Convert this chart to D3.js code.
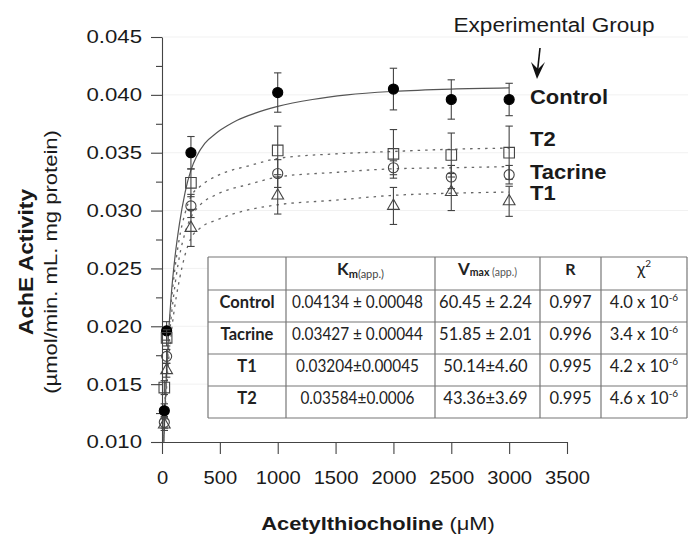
<!DOCTYPE html>
<html>
<head>
<meta charset="utf-8">
<script src="https://cdn.jsdelivr.net/npm/d3@7.9.0/dist/d3.min.js"></script>
<style>
  body { margin: 0; background: #fff; }
  svg text { font-family: "Liberation Sans", Arial, sans-serif; fill: #1a1a1a; }
  .tbl text { font-family: Lato, "Open Sans", sans-serif; fill: #222; }
</style>
</head>
<body>
<svg id="chart" width="688" height="536"></svg>
<script>
// substrate concentrations (µM) where activity was measured
const concentrations = [20, 40, 250, 1000, 2000, 2500, 3000];

// mean activity and error for each group
const controlMean = [0.0127, 0.0196, 0.0350, 0.0402, 0.0405, 0.0396, 0.0396];
const controlErr  = [0.0006, 0.0008, 0.0014, 0.0017, 0.0018, 0.0017, 0.0014];
const t2Mean      = [0.0147, 0.0190, 0.0324, 0.0352, 0.0349, 0.0348, 0.0350];
const t2Err       = [0.0006, 0.0007, 0.0012, 0.0021, 0.0021, 0.0019, 0.0023];
const tacrineMean = [0.0117, 0.0174, 0.0304, 0.0332, 0.0337, 0.0329, 0.0331];
const tacrineErr  = [0.0005, 0.0006, 0.0010, 0.0012, 0.0006, 0.0010, 0.0008];
const t1Mean      = [0.0115, 0.0162, 0.0285, 0.0313, 0.0304, 0.0316, 0.0308];
const t1Err       = [0.0005, 0.0006, 0.0016, 0.0016, 0.0016, 0.0016, 0.0013];

// fitted curves
const controlFitX = [10, 20, 35, 55, 80, 110, 150, 200, 250, 300, 370, 470, 560, 650, 800, 1000, 1300, 1600, 2000, 2500, 3000];
const controlFitY = [0.0080, 0.0112, 0.0150, 0.0190, 0.0227, 0.0258, 0.0288, 0.0316, 0.0335, 0.0347, 0.0358, 0.0367, 0.0373, 0.0378, 0.0384, 0.0390, 0.0396, 0.0400, 0.0403, 0.0405, 0.0406];
const groupFitX   = [10, 25, 45, 70, 100, 150, 200, 250, 331, 475, 763, 1000, 1500, 1973, 2500, 3000];
const t2FitY      = [0.0098, 0.0135, 0.0175, 0.0210, 0.0240, 0.0276, 0.0298, 0.0312, 0.0321, 0.0330, 0.0339, 0.0345, 0.0349, 0.0351, 0.0353, 0.0354];
const tacrineFitY = [0.0096, 0.0128, 0.0165, 0.0198, 0.0226, 0.0260, 0.0281, 0.0294, 0.0305, 0.0314, 0.0323, 0.0329, 0.0333, 0.0336, 0.0337, 0.0338];
const t1FitY      = [0.0094, 0.0122, 0.0155, 0.0185, 0.0210, 0.0240, 0.0262, 0.0276, 0.0285, 0.0292, 0.0301, 0.0305, 0.0309, 0.0313, 0.0315, 0.0316];

// axis ticks
const xTicks = [0, 500, 1000, 1500, 2000, 2500, 3000, 3500];
const yTicks = [0.010, 0.015, 0.020, 0.025, 0.030, 0.035, 0.040, 0.045];
const yMinorTicks = [0.0125, 0.0175, 0.0225, 0.0275, 0.0325, 0.0375, 0.0425];

// kinetic parameters table
const tableGroups = ["Control", "Tacrine", "T1", "T2"];
const kmValues    = ["0.04134 ± 0.00048", "0.03427 ± 0.00044", "0.03204±0.00045", "0.03584±0.0006"];
const vmaxValues  = ["60.45 ± 2.24", "51.85 ± 2.01", "50.14±4.60", "43.36±3.69"];
const rValues     = ["0.997", "0.996", "0.995", "0.995"];
const chiValues   = ["4.0", "3.4", "4.2", "4.6"];

const svg = d3.select('#chart');

const x = d3.scaleLinear().domain([0, 3500]).range([162, 567]);
const y = d3.scaleLinear().domain([0.010, 0.045]).range([442, 37]);

// stretch text a bit, the original font is wider than Arial
function stretch(sel, k) {
    sel.each(function() {
        const w = this.getComputedTextLength();
        d3.select(this).attr('textLength', w * k).attr('lengthAdjust', 'spacingAndGlyphs');
    });
}

// faint grid
svg.append('g')
    .selectAll('line')
    .data(yTicks.slice(1))
    .join('line')
    .attr('x1', x(0)).attr('x2', 688)
    .attr('y1', d => y(d)).attr('y2', d => y(d))
    .attr('stroke', '#f1f1f1');

// axes
const xAxis = svg.append('g')
    .attr('transform', `translate(0,${y(0.010)})`)
    .call(d3.axisBottom(x).tickValues(xTicks).tickSize(12).tickSizeOuter(0).tickPadding(17).tickFormat(d3.format('d')));
const yAxis = svg.append('g')
    .attr('transform', `translate(${x(0)},0)`)
    .call(d3.axisLeft(y).tickValues(yTicks).tickSize(11).tickSizeOuter(0).tickPadding(9).tickFormat(d3.format('.3f')));
svg.append('g')
    .attr('transform', `translate(${x(0)},0)`)
    .call(d3.axisLeft(y).tickValues(yMinorTicks).tickSize(6).tickFormat(''))
    .select('.domain').remove();

svg.selectAll('.domain, .tick line').attr('stroke', '#444').attr('stroke-width', 1.1);
xAxis.selectAll('text').attr('font-size', 18).attr('fill', '#1a1a1a').call(stretch, 1.12);
yAxis.selectAll('text').attr('font-size', 18.5).attr('fill', '#1a1a1a').call(stretch, 1.2);

// axis titles
const xTitle = svg.append('text')
    .attr('x', 378).attr('y', 530)
    .attr('text-anchor', 'middle')
    .attr('font-size', 19);
xTitle.append('tspan').attr('font-weight', 'bold').text('Acetylthiocholine');
xTitle.append('tspan').text(' (μM)');
xTitle.call(stretch, 1.15);

svg.append('text')
    .attr('transform', 'translate(33,262) rotate(-90)')
    .attr('text-anchor', 'middle')
    .attr('font-size', 20).attr('font-weight', 'bold')
    .text('AchE Activity')
    .call(stretch, 1.14);
svg.append('text')
    .attr('transform', 'translate(57,262) rotate(-90)')
    .attr('text-anchor', 'middle')
    .attr('font-size', 19)
    .text('(µmol/min. mL. mg protein)')
    .call(stretch, 1.16);

// curves and markers
const series = [
    { name: 'Control', mean: controlMean, err: controlErr, fitX: controlFitX, fitY: controlFitY, symbol: d3.symbolCircle, size: 80, filled: true, dash: null, labelShift: -3 },
    { name: 'T2', mean: t2Mean, err: t2Err, fitX: groupFitX, fitY: t2FitY, symbol: d3.symbolSquare, size: 112, filled: false, dash: '2.5,5', labelShift: -14 },
    { name: 'Tacrine', mean: tacrineMean, err: tacrineErr, fitX: groupFitX, fitY: tacrineFitY, symbol: d3.symbolCircle, size: 80, filled: false, dash: '2.5,5', labelShift: -3 },
    { name: 'T1', mean: t1Mean, err: t1Err, fitX: groupFitX, fitY: t1FitY, symbol: d3.symbolTriangle, size: 60, filled: false, dash: '2.5,5', labelShift: -8 }
];

svg.append('clipPath').attr('id', 'plotClip')
    .append('rect')
    .attr('x', x(0)).attr('y', y(0.045))
    .attr('width', x(3500) - x(0)).attr('height', y(0.010) - y(0.045));

const line = d3.line()
    .x(d => x(d[0]))
    .y(d => y(d[1]))
    .curve(d3.curveMonotoneX);

const curves = svg.append('g').attr('clip-path', 'url(#plotClip)');
series.forEach(s => {
    const pts = s.fitX.map((v, i) => [v, s.fitY[i]]);
    curves.append('path')
        .attr('d', line(pts))
        .attr('fill', 'none')
        .attr('stroke', s.dash ? '#666' : '#555')
        .attr('stroke-width', s.dash ? 1.3 : 1.2)
        .attr('stroke-dasharray', s.dash);
});

const marks = svg.append('g');
series.forEach(s => {
    const g = marks.append('g');
    concentrations.forEach((c, i) => {
        const cx = x(c);
        const top = y(s.mean[i] + s.err[i]);
        const bot = y(s.mean[i] - s.err[i]);
        g.append('line').attr('x1', cx).attr('x2', cx).attr('y1', top).attr('y2', bot)
            .attr('stroke', '#444').attr('stroke-width', 1.1);
        [top, bot].forEach(yy => {
            g.append('line').attr('x1', cx - 3.7).attr('x2', cx + 3.7).attr('y1', yy).attr('y2', yy)
                .attr('stroke', '#444').attr('stroke-width', 1.1);
        });
        g.append('path')
            .attr('transform', `translate(${cx},${y(s.mean[i])})`)
            .attr('d', d3.symbol().type(s.symbol).size(s.size)())
            .attr('fill', s.filled ? '#000' : 'none')
            .attr('stroke', s.filled ? '#000' : '#444')
            .attr('stroke-width', 1.1);
    });
});

// group labels on the right
series.forEach(s => {
    const last = s.mean[s.mean.length - 1];
    svg.append('text')
        .attr('x', 530)
        .attr('y', y(last) + s.labelShift)
        .attr('dy', '0.35em')
        .attr('font-size', 20.5).attr('font-weight', 'bold')
        .text(s.name)
        .call(stretch, 1.07);
});

svg.append('text')
    .attr('x', 554).attr('y', 31.5)
    .attr('text-anchor', 'middle')
    .attr('font-size', 20)
    .text('Experimental Group')
    .call(stretch, 1.13);

// little hand drawn arrow
svg.append('path')
    .attr('d', 'M540,48 L537,76')
    .attr('stroke', '#111').attr('stroke-width', 1.6).attr('fill', 'none');
svg.append('path')
    .attr('d', 'M531,62 L537,79 L545,62 L538,69 Z')
    .attr('fill', '#111');

// parameter table
const colEdges = [208, 286, 435, 540, 601, 687];
const rowEdges = [257, 290, 322, 354, 386, 418];
const tbl = svg.append('g').attr('class', 'tbl');
tbl.append('rect')
    .attr('x', colEdges[0]).attr('y', rowEdges[0])
    .attr('width', colEdges[5] - colEdges[0]).attr('height', rowEdges[5] - rowEdges[0])
    .attr('fill', '#fff');
rowEdges.forEach(r => tbl.append('line')
    .attr('x1', colEdges[0]).attr('x2', colEdges[5]).attr('y1', r).attr('y2', r)
    .attr('stroke', '#777').attr('stroke-width', 1.2));
colEdges.forEach(c => tbl.append('line')
    .attr('x1', c).attr('x2', c).attr('y1', rowEdges[0]).attr('y2', rowEdges[5])
    .attr('stroke', '#777').attr('stroke-width', 1.2));

const colMid = i => (colEdges[i] + colEdges[i + 1]) / 2;
const headY = rowEdges[0] + 18;

const km = tbl.append('text').attr('x', colMid(1)).attr('y', headY).attr('text-anchor', 'middle');
km.append('tspan').attr('font-weight', 'bold').attr('font-size', 17).text('K');
km.append('tspan').attr('font-weight', 'bold').attr('font-size', 11).attr('dy', 3).text('m');
km.append('tspan').attr('font-size', 11).attr('fill', '#444').text('(app.)');

const vm = tbl.append('text').attr('x', colMid(2)).attr('y', headY).attr('text-anchor', 'middle');
vm.append('tspan').attr('font-weight', 'bold').attr('font-size', 17).text('V');
vm.append('tspan').attr('font-weight', 'bold').attr('font-size', 10.5).attr('dy', 1).text('max');
vm.append('tspan').attr('font-size', 10.5).attr('fill', '#555').text(' (app.)');

tbl.append('text').attr('x', colMid(3)).attr('y', headY).attr('text-anchor', 'middle')
    .attr('font-weight', 'bold').attr('font-size', 16).text('R');

const chi = tbl.append('text').attr('x', colMid(4)).attr('y', headY).attr('text-anchor', 'middle');
chi.append('tspan').attr('font-size', 17).text('χ');
chi.append('tspan').attr('font-size', 10).attr('dy', -8).text('2');

tableGroups.forEach((g, i) => {
    const by = rowEdges[i + 1] + 18;
    tbl.append('text').attr('x', colMid(0)).attr('y', by).attr('text-anchor', 'middle')
        .attr('font-weight', 'bold').attr('font-size', 16.5).text(g);
    tbl.append('text').attr('x', colMid(1) - 3).attr('y', by).attr('text-anchor', 'middle')
        .attr('font-size', 16.5).text(kmValues[i])
        .call(stretch, 0.93);
    tbl.append('text').attr('x', colMid(2) - 2).attr('y', by).attr('text-anchor', 'middle')
        .attr('font-size', 16.5).text(vmaxValues[i]);
    tbl.append('text').attr('x', colMid(3)).attr('y', by).attr('text-anchor', 'middle')
        .attr('font-size', 16.5).text(rValues[i]);
    const c = tbl.append('text').attr('x', colMid(4)).attr('y', by).attr('text-anchor', 'middle')
        .attr('font-size', 16.5);
    c.append('tspan').text(chiValues[i] + ' x 10');
    c.append('tspan').attr('font-size', 10).attr('dy', -7).text('-6');
});
</script>
</body>
</html>
